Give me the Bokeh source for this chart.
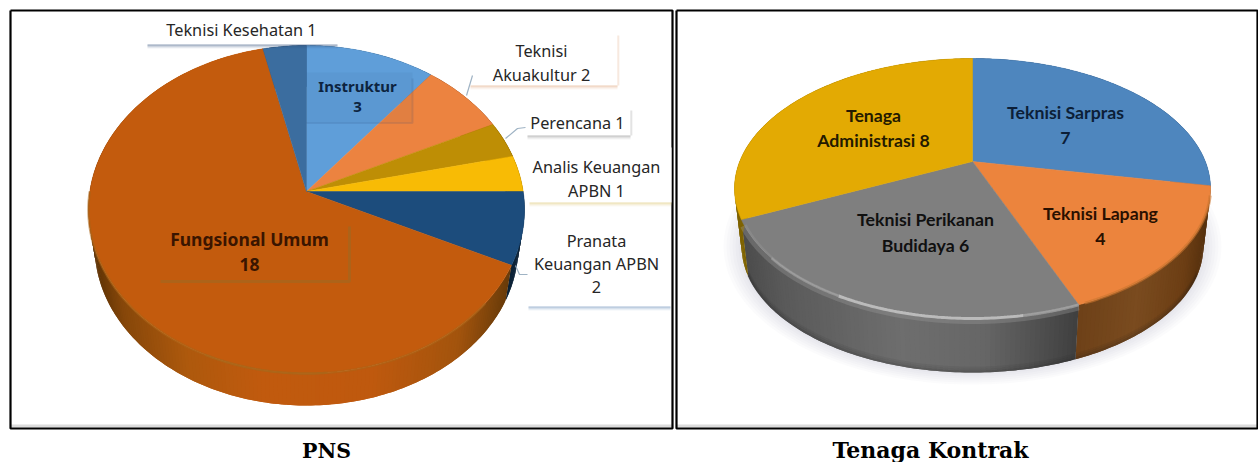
import numpy as np
from bokeh.plotting import figure
from bokeh.models import Range1d
from bokeh.core.properties import value
from bokeh.embed import file_html
from bokeh.resources import INLINE

# ---- data ----
pns_names = ["Instruktur", "Teknisi Akuakultur", "Perencana", "Analis Keuangan APBN",
             "Pranata Keuangan APBN", "Fungsional Umum", "Teknisi Kesehatan"]
pns_values = [3, 2, 1, 1, 2, 18, 1]
kontrak_names = ["Teknisi Sarpras", "Teknisi Lapang", "Teknisi Perikanan Budidaya", "Tenaga Administrasi"]
kontrak_values = [7, 4, 6, 8]
captions = ["PNS", "Tenaga Kontrak"]

pns_colors = ["#5F9ED9", "#EC8340", "#BE8E05", "#F8BB05", "#1C4C7C", "#C35B0D", "#3B6D9F"]
kontrak_colors = ["#4E86BE", "#EC843D", "#7F7F7F", "#E3AA03"]

p = figure(width=1258, height=462, x_range=Range1d(0, 1258), y_range=Range1d(462, 0),
           output_backend="svg", toolbar_location=None, min_border=0, background_fill_color="white")
p.axis.visible = False
p.grid.visible = False
p.outline_line_color = None


def hexmix(stops, s):
    xs = [a for a, _ in stops]
    rgb = []
    for i in range(3):
        rgb.append(np.interp(s, xs, [int(c[1 + 2 * i:3 + 2 * i], 16) for _, c in stops]))
    return "#%02x%02x%02x" % tuple(int(round(v)) for v in rgb)


def pie(values, colors, cx, apex, top, bottom, rx, depth, shrink, side_stops, crease, shadow=False, foot=None):
    up, down = apex - top, bottom - apex
    k = (down - up) / (down + up)
    B = up * (1 + k)
    A = rx * np.sqrt(1 - k * k)
    yc, ry = (top + bottom) / 2, (bottom - top) / 2
    rx2, ry2 = rx * shrink, ry * shrink
    yc2 = bottom + depth - ry2

    def rim(deg):
        t = np.radians(np.asarray(deg, dtype=float))
        u, v = np.sin(t), np.cos(t)
        d = 1 + k * v
        return cx + A * u / d, apex - B * v / d

    def lower(x, y):
        return cx + (x - cx) * rx2 / rx, yc2 + (y - yc) * ry2 / ry

    if shadow:
        t = np.linspace(0, 2 * np.pi, 240)
        for g in range(1, 7):
            p.patch(cx + (rx2 + 3 * g) * np.cos(t), yc2 + (ry2 + 2 * g) * np.sin(t),
                    fill_color="#8d98a5", fill_alpha=0.035, line_color=None)

    edges = np.concatenate([[0], np.cumsum(values)]) / sum(values) * 360
    # side wall: bands are drawn wider than their step so that no seams show
    xs, ys, cols = [], [], []
    for i in range(len(values)):
        a, b = edges[i], edges[i + 1]
        steps = max(2, int((b - a) / 1.0))
        ang = np.linspace(a, b, steps + 1)
        x1, y1 = rim(ang)
        x2, y2 = lower(x1, y1)
        for j in range(steps):
            e = min(j + 2, steps)
            xs.append(list(x1[j:e + 1]) + list(x2[j:e + 1])[::-1])
            ys.append(list(y1[j:e + 1]) + list(y2[j:e + 1])[::-1])
            s = ((x1[j] + x1[j + 1]) / 2 - cx) / rx
            cols.append(hexmix(side_stops[i], s))
    p.patches(xs, ys, fill_color=cols, line_color=None)
    # darker foot of the wall
    if foot:
        ang = np.linspace(115, 245, 120)
        x1, y1 = rim(ang)
        x2, y2 = lower(x1, y1)
        for off, w, al in foot:
            p.line(x2, y2 - off, line_color="#1c1c1c", line_width=w, line_alpha=al)
    # top faces
    fx, fy = [], []
    for i in range(len(values)):
        ang = np.linspace(edges[i], edges[i + 1], 90)
        x1, y1 = rim(ang)
        fx.append(np.concatenate([[cx], x1]))
        fy.append(np.concatenate([[apex], y1]))
    p.patches(fx, fy, fill_color=colors, line_color=colors, line_width=0.5)
    # crease along the front of the rim
    for a, b, col, w, al, off in crease:
        ang = np.linspace(a, b, 60)
        x1, y1 = rim(ang)
        p.line(x1, y1 + off, line_color=col, line_width=w, line_alpha=al)


def dark(c, f):
    return "#%02x%02x%02x" % tuple(int(int(c[1 + 2 * i:3 + 2 * i], 16) * f) for i in range(3))


# frames
for x0, x1 in [(10, 672), (676, 1257)]:
    p.line([x0, x1], [425.5, 425.5], line_color="#dcdcdc", line_width=3)
    p.line([x0, x1, x1, x0, x0], [10, 10, 428, 428, 10], line_color="#000000", line_width=2.2)

# PNS pie
pns_side = [[(-1, dark(c, .45)), (1, dark(c, .45))] for c in pns_colors]
pns_side[5] = [(-1, "#5a3004"), (-.85, "#86470a"), (-.55, "#ae590d"), (-.2, "#c15a0e"),
               (.3, "#bf590e"), (.7, "#a3540d"), (.93, "#6b3c0a"), (1, "#4a2a08")]
pie(pns_values, pns_colors, 306, 191, 45, 373, 218, 32, 0.972, pns_side,
    [(130, 175, "#a9661a", 2.5, .55, 0), (175, 205, "#a9661a", 2.5, .85, 0), (205, 270, "#a9661a", 2.5, .55, 0)])

# shadow marks of the two in-pie label boxes
p.quad(left=[306], right=[412], top=[72], bottom=[122], fill_color="#1d3c66", fill_alpha=0.05, line_color=None)
p.line([306, 412, 412], [122.5, 122.5, 78], line_color="#2a4a78", line_width=2, line_alpha=0.14)
p.line([160, 349, 349], [281, 281, 226], line_color="#a9651c", line_width=3, line_alpha=0.85)

# Kontrak pie
kontrak_side = [
    [(-1, "#2c4a6c"), (1, "#2c4a6c")],
    [(.4, "#6b3f17"), (.7, "#7a4b1f"), (.9, "#6c3e14"), (1, "#55300e")],
    [(-1, "#4a4a4a"), (-.8, "#5a5a5a"), (-.3, "#6e6e6e"), (.05, "#666666"), (.3, "#4e4e4e"), (.45, "#3f3f3f")],
    [(-1, "#7f6300"), (1, "#7f6300")],
]
pie(kontrak_values, kontrak_colors, 972, 161, 58, 318, 238, 54, 0.97, kontrak_side,
    [(158.4, 243, "#9a9a9a", 7, .35, 2), (158.4, 170, "#a8a8a8", 3, .7, 0), (170, 208, "#c4c4c4", 3, .85, 0),
     (208, 228, "#a8a8a8", 2.5, .6, 0), (105, 157, "#c9752f", 3, .6, 0)],
    shadow=True, foot=[(1, 2, .22), (3, 2, .13), (5, 2, .07)])

# label boxes
box_l = [145, 468, 525, 527, 526]
box_r = [337, 617, 630, 671, 670]
box_t = [14, 33, 108, 147, 222]
box_b = [44, 85, 135, 202, 306]
box_s = ["#33507c", "#e0a478", "#8a8a8a", "#dcc26a", "#5f83b4"]
p.quad(left=box_l, right=box_r, top=box_t, bottom=box_b, fill_color="white", line_color=None)
for l, r, b, c in zip(box_l, box_r, box_b, box_s):
    for g, al in [(0.5, .55), (1.5, .35), (2.5, .18), (3.5, .08)]:
        p.line([l + 2, r], [b + g, b + g], line_color=c, line_width=1, line_alpha=al)
for l, r, t, b, c in zip(box_l[1:3], box_r[1:3], box_t[1:3], box_b[1:3], box_s[1:3]):
    for g, al in [(0.5, .35), (1.5, .15)]:
        p.line([r + g, r + g], [t + 2, b], line_color=c, line_width=1, line_alpha=al)

# leader lines
p.multi_line([[472, 466], [505, 517, 525], [515, 519, 527]], [[75, 95], [138, 128, 127], [265, 274, 274]],
             line_color="#9fb3c4", line_width=1.2)

# thin label text
thin_text = ["Teknisi Kesehatan 1", "Teknisi", "Akuakultur 2", "Perencana 1", "Analis Keuangan", "APBN 1",
             "Pranata", "Keuangan APBN", "2"]
thin_x = [241, 541, 541, 577, 596, 596, 596, 596, 596]
thin_y = [29, 50, 74, 122, 166, 190, 240, 263, 286]
p.text(thin_x, thin_y, text=thin_text, text_font=value("Noto Sans"), text_font_size="16.3px",
       text_color="#262626", text_align="center", text_baseline="middle")

# bold labels
p.text([357, 357], [85, 106], text=["Instruktur", "3"], text_color="#0d2440", text_font=value("Noto Sans"),
       text_font_size="15px", text_font_style="bold", text_align="center", text_baseline="middle")
p.text([249, 249], [238, 264], text=["Fungsional Umum", "18"], text_color="#3a1500", text_font=value("Noto Sans"),
       text_font_size="17.5px", text_font_style="bold", text_align="center", text_baseline="middle")

k_text = ["Teknisi Sarpras", "7", "Teknisi Lapang", "4", "Teknisi Perikanan", "Budidaya 6", "Tenaga", "Administrasi 8"]
k_x = [1065, 1065, 1100, 1100, 925, 925, 873, 873]
k_y = [112, 137, 213, 238, 219, 245, 115, 140]
k_c = ["#0c1f38", "#0c1f38", "#2a1000", "#2a1000", "#101010", "#101010", "#241a00", "#241a00"]
p.text(k_x, k_y, text=k_text, text_color=k_c, text_font=value("Lato"), text_font_size="17.7px",
       text_font_style="bold", text_align="center", text_baseline="middle")

p.text([326], [450], text=captions[:1], text_color="#000000", text_font=value("DejaVu Serif"),
       text_font_size="20.5px", text_font_style="bold", text_align="center", text_baseline="middle")
p.text([930], [449], text=captions[1:], text_color="#000000", text_font=value("DejaVu Serif"),
       text_font_size="22px", text_font_style="bold", text_align="center", text_baseline="middle")

open("out.html", "w").write(file_html(p, INLINE))
